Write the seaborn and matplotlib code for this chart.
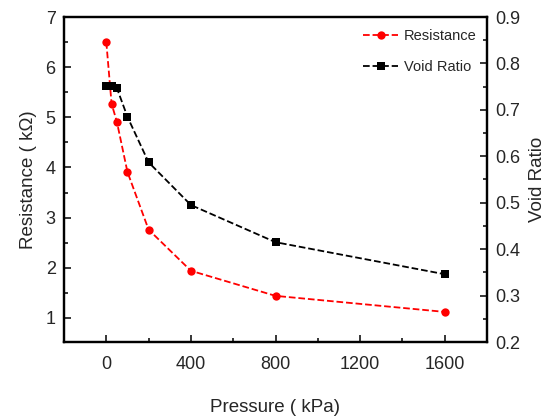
import matplotlib
matplotlib.use("Agg")
import matplotlib.pyplot as plt
import seaborn as sns
import pandas as pd
from matplotlib.ticker import MultipleLocator, FixedLocator

sns.set_style("ticks")
plt.rcParams['font.family'] = ['Liberation Sans', 'DejaVu Sans']

pressure = [0, 25, 50, 100, 200, 400, 800, 1600]
resistance = [6.50, 5.27, 4.91, 3.91, 2.76, 1.94, 1.44, 1.12]
void_ratio = [0.751, 0.751, 0.747, 0.685, 0.587, 0.495, 0.415, 0.346]
x_ticks = [0, 400, 800, 1200, 1600]

df = pd.DataFrame({"Pressure": pressure, "Resistance": resistance, "Void Ratio": void_ratio})

fig = plt.figure(figsize=(5.57, 4.19), dpi=100)
ax = fig.add_axes([64 / 557, 1 - 342 / 419, (487 - 64) / 557, (342 - 17) / 419])
ax2 = ax.twinx()

sns.lineplot(data=df, x="Pressure", y="Resistance", ax=ax, color="red",
             marker="o", markersize=6, markeredgewidth=0, linestyle="--",
             linewidth=1.3, label="Resistance", legend=False)
sns.lineplot(data=df, x="Pressure", y="Void Ratio", ax=ax2, color="black",
             marker="s", markersize=5.5, markeredgewidth=0, linestyle="--",
             linewidth=1.3, label="Void Ratio", legend=False)

ax.set_xlim(-200, 1800)
ax.set_ylim(0.52, 7)
ax2.set_ylim(0.2, 0.9)

ax.xaxis.set_major_locator(FixedLocator(x_ticks))
ax.xaxis.set_minor_locator(MultipleLocator(200))
ax.yaxis.set_major_locator(MultipleLocator(1))
ax.yaxis.set_minor_locator(MultipleLocator(0.5))
ax2.yaxis.set_major_locator(MultipleLocator(0.1))
ax2.yaxis.set_minor_locator(MultipleLocator(0.05))

for a in (ax, ax2):
    a.tick_params(which="major", direction="in", length=5, width=1.3, labelsize=13, pad=6)
    a.tick_params(which="minor", direction="in", length=3, width=1.3)
    for s in a.spines.values():
        s.set_linewidth(1.6)
        s.set_color("black")
ax.tick_params(axis="x", pad=10)
ax.tick_params(top=False, which="both")

ax.set_xlabel("Pressure ( kPa)", fontsize=13.5, labelpad=19)
ax.set_ylabel("Resistance ( kΩ)", fontsize=13.5, labelpad=6)
ax2.set_ylabel("Void Ratio", fontsize=13.5, labelpad=6)

h1, l1 = ax.get_legend_handles_labels()
h2, l2 = ax2.get_legend_handles_labels()
ax2.legend(h1 + h2, l1 + l2, loc="upper right", frameon=False, fontsize=10.5,
           handlelength=2.4, handletextpad=0.4, borderaxespad=0.3, labelspacing=1.2,
           bbox_to_anchor=(1.0, 0.995))

fig.savefig("out.png", dpi=100)
